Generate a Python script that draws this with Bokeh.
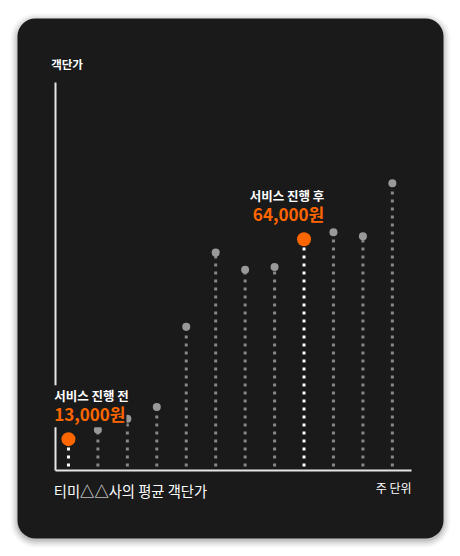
from bokeh.plotting import figure
from bokeh.models import Range1d, Label, FixedTicker, ColumnDataSource, BoxAnnotation
from bokeh.embed import file_html
from bokeh.resources import INLINE

# ---- data ----
weeks = list(range(1, 13))
avg_price = [13000, 15400, 18200, 21200, 41700, 60600, 56200, 56900, 64000, 65800, 64800, 78300]
highlight_weeks = [1, 9]
highlight_titles = ["서비스 진행 전", "서비스 진행 후"]
highlight_values = ["13,000원", "64,000원"]
y_title = "객단가"
x_title = "주 단위"
caption = "티미△△사의 평균 객단가"

# ---- style ----
FONT = "Noto Sans CJK KR"
BG = "#1a1a1a"
ORANGE = "#ff6600"
AXIS = "#e6e6e6"
W, H = 452, 548
# axis extents (value space) and their pixel placement inside the figure
Y0, Y1 = 5000, 104000
X0, X1 = 0.56, 12.65
AX_L, AX_R, AX_T, AX_B = 55, 411, 82, 470      # px in figure

kx = (X1 - X0) / (AX_R - AX_L)
ky = (Y1 - Y0) / (AX_B - AX_T)
def dx(px):
    return X0 + (px - AX_L) * kx
def dy(py):
    return Y0 + (AX_B - py) * ky

p = figure(width=W, height=H, output_backend="svg", toolbar_location=None,
           x_range=Range1d(dx(0), dx(W)), y_range=Range1d(dy(H), dy(0)),
           min_border=0)
p.border_fill_color = "white"
p.background_fill_color = "white"
p.outline_line_color = None
p.grid.visible = False

# card with soft shadow
CL, CR, CT, CB = 17, 443, 18, 538
for i, a in zip([7, 5, 3, 1], [0.03, 0.05, 0.07, 0.10]):
    p.add_layout(BoxAnnotation(left=dx(CL - i), right=dx(CR + i), top=dy(CT - i + 2),
                               bottom=dy(CB + i + 2), fill_color="black", fill_alpha=a,
                               line_color=None, border_radius=18 + i, level="underlay"))
p.add_layout(BoxAnnotation(left=dx(CL), right=dx(CR), top=dy(CT), bottom=dy(CB),
                           fill_color=BG, fill_alpha=1, line_color=None,
                           border_radius=18, level="underlay"))

# axes (library axes, fixed inside frame, bounded)
p.xaxis.fixed_location = Y0
p.xaxis.bounds = (X0, X1)
p.yaxis.fixed_location = X0
p.yaxis.bounds = (Y0, Y1)
for ax in (p.xaxis, p.yaxis):
    ax.ticker = FixedTicker(ticks=[])
    ax.axis_line_color = AXIS
    ax.axis_line_width = 2
    ax.major_tick_line_color = None
    ax.minor_tick_line_color = None
    ax.major_tick_out = 0
    ax.major_tick_in = 0
    ax.minor_tick_out = 0
    ax.major_label_standoff = 0
    ax.major_label_text_font_size = "0px"

is_hi = [w in highlight_weeks for w in weeks]
src = ColumnDataSource(dict(
    x=weeks,
    y=avg_price,
    base=[Y0] * len(weeks),
    dot_color=[ORANGE if h else "#999999" for h in is_hi],
    dot_size=[14 if h else 8 for h in is_hi],
    seg_color=["#ffffff" if h else "#888888" for h in is_hi],
))

p.segment(x0="x", y0="base", x1="x", y1="y", source=src, line_color="seg_color",
          line_width=3, line_dash="3 5", line_dash_offset=4, line_cap="butt")
p.scatter(x="x", y="y", source=src, size="dot_size", fill_color="dot_color",
          line_color=None)

offsets = [(-15.3, "left"), (-17.0, "center")]
for w, t, v, (ox, al) in zip(highlight_weeks, highlight_titles, highlight_values, offsets):
    val = avg_price[weeks.index(w)]
    p.add_layout(Label(x=w, y=val, x_offset=ox + (0 if al == "left" else 1.5), y_offset=25.5,
                       text=v, text_align=al, text_baseline="middle",
                       text_font_size="17px", text_font_style="bold", padding=1,
                       text_font=FONT, text_color=ORANGE, background_fill_color=BG))
    p.add_layout(Label(x=w, y=val, x_offset=ox, y_offset=43.5, text=t, text_align=al,
                       text_baseline="middle", text_font_size="12.5px",
                       text_font_style="bold", padding=1, text_font=FONT,
                       text_color="#ffffff", background_fill_color=BG))

p.add_layout(Label(x=X0, y=Y1, x_offset=-4.3, y_offset=19, text=y_title,
                   text_align="left", text_baseline="middle", text_font=FONT,
                   text_font_size="11.5px", text_font_style="bold", text_color="#ffffff"))
p.add_layout(Label(x=X0, y=Y0, x_offset=-1.7, y_offset=-20, text=caption,
                   text_align="left", text_baseline="middle", text_font=FONT,
                   text_font_size="14.3px", text_color="#ffffff"))
p.add_layout(Label(x=X1, y=Y0, x_offset=0, y_offset=-17, text=x_title,
                   text_align="right", text_baseline="middle", text_font=FONT,
                   text_font_size="12px", text_color="#ffffff"))

open("out.html", "w").write(file_html(p, INLINE))
